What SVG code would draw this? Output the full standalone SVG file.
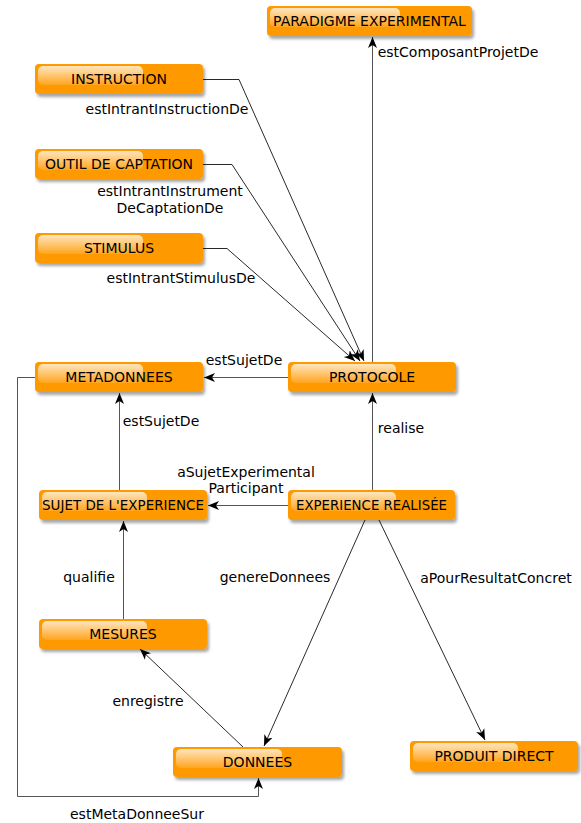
<svg xmlns="http://www.w3.org/2000/svg" width="581" height="823" viewBox="0 0 581 823">
<style>
.box{fill:#FF9900;filter:url(#sh)}
.gloss{fill:url(#gl)}
.nt{font-family:"DejaVu Sans",sans-serif;font-size:14px;fill:#000;text-anchor:middle}
.el{font-family:"DejaVu Sans",sans-serif;font-size:14px;fill:#000;text-anchor:middle}
.ortho{fill:none;stroke:#555;stroke-width:1;marker-end:url(#ah)}
.diag{fill:none;stroke:#111;stroke-width:0.9;marker-end:url(#ah)}
</style>
<defs>
<filter id="sh" x="-10%" y="-30%" width="125%" height="180%">
<feDropShadow dx="2" dy="3" stdDeviation="1.6" flood-color="#000" flood-opacity="0.35"/>
</filter>
<linearGradient id="gl" x1="0" y1="0" x2="0" y2="1">
<stop offset="0" stop-color="#fff" stop-opacity="0.75"/>
<stop offset="1" stop-color="#fff" stop-opacity="0.12"/>
</linearGradient>
<marker id="ah" markerUnits="userSpaceOnUse" markerWidth="12" markerHeight="10" viewBox="0 0 12 10" refX="11" refY="5" orient="auto">
<path d="M0,0.5 L11,5 L0,9.5 L3,5 Z" fill="#000"/>
</marker>
</defs>
<rect width="581" height="823" fill="#fff"/>
<g id="connectors">
<path class="diag" d="M203,79.5 H239 L364,361"/>
<path class="diag" d="M203,164.5 H232 L360,361"/>
<path class="diag" d="M203,248.5 H227 L355,361"/>
<path class="ortho" d="M372.5,362 V37"/>
<path class="ortho" d="M288,377.5 H204"/>
<path class="ortho" d="M372.5,490 V393"/>
<path class="ortho" d="M119.5,490 V393"/>
<path class="ortho" d="M288,505.5 H208"/>
<path class="ortho" d="M123.5,619 V521"/>
<path class="diag" d="M243,747 L140,649"/>
<path class="diag" d="M365,520 L264,746"/>
<path class="diag" d="M379,520 L485,740"/>
<path class="ortho" d="M35,377.5 H17.5 V796.5 H258.5 V778"/>
<text class="el" x="458" y="57">estComposantProjetDe</text>
<text class="el" x="167" y="114">estIntrantInstructionDe</text>
<text class="el" x="170" y="196">estIntrantInstrument</text>
<text class="el" x="170" y="213">DeCaptationDe</text>
<text class="el" x="181" y="283">estIntrantStimulusDe</text>
<text class="el" x="244" y="365">estSujetDe</text>
<text class="el" x="401" y="433">realise</text>
<text class="el" x="161" y="426">estSujetDe</text>
<text class="el" x="246" y="477">aSujetExperimental</text>
<text class="el" x="246" y="493">Participant</text>
<text class="el" x="89" y="582">qualifie</text>
<text class="el" x="275" y="582">genereDonnees</text>
<text class="el" x="496" y="583">aPourResultatConcret</text>
<text class="el" x="148" y="706">enregistre</text>
<text class="el" x="137" y="819">estMetaDonneeSur</text>
</g>
<g id="n-paradigme">
<rect class="box" x="267" y="6" width="205" height="30" rx="4"/>
<rect class="gloss" x="270" y="8" width="130" height="19" rx="5"/>
<text class="nt" x="369.5" y="26">PARADIGME EXPERIMENTAL</text>
</g>
<g id="n-instruction">
<rect class="box" x="35" y="64" width="168" height="30" rx="4"/>
<rect class="gloss" x="38" y="66" width="105" height="19" rx="5"/>
<text class="nt" x="119" y="84">INSTRUCTION</text>
</g>
<g id="n-outil">
<rect class="box" x="35" y="149" width="168" height="30" rx="4"/>
<rect class="gloss" x="38" y="151" width="105" height="19" rx="5"/>
<text class="nt" x="119" y="169">OUTIL DE CAPTATION</text>
</g>
<g id="n-stimulus">
<rect class="box" x="35" y="233" width="168" height="30" rx="4"/>
<rect class="gloss" x="38" y="235" width="105" height="19" rx="5"/>
<text class="nt" x="119" y="253">STIMULUS</text>
</g>
<g id="n-protocole">
<rect class="box" x="288" y="362" width="168" height="30" rx="4"/>
<rect class="gloss" x="291" y="364" width="105" height="19" rx="5"/>
<text class="nt" x="372" y="382">PROTOCOLE</text>
</g>
<g id="n-metadonnees">
<rect class="box" x="35" y="362" width="168" height="30" rx="4"/>
<rect class="gloss" x="38" y="364" width="105" height="19" rx="5"/>
<text class="nt" x="119" y="382">METADONNEES</text>
</g>
<g id="n-sujet">
<rect class="box" x="39" y="490" width="168" height="30" rx="4"/>
<rect class="gloss" x="42" y="492" width="105" height="19" rx="5"/>
<text class="nt" x="123" y="510" textLength="162" lengthAdjust="spacingAndGlyphs">SUJET DE L'EXPERIENCE</text>
</g>
<g id="n-experience">
<rect class="box" x="288" y="490" width="167" height="30" rx="4"/>
<rect class="gloss" x="291" y="492" width="105" height="19" rx="5"/>
<text class="nt" x="371.5" y="510" textLength="151" lengthAdjust="spacingAndGlyphs">EXPERIENCE REALISÉE</text>
</g>
<g id="n-mesures">
<rect class="box" x="39" y="619" width="168" height="30" rx="4"/>
<rect class="gloss" x="42" y="621" width="105" height="19" rx="5"/>
<text class="nt" x="123" y="639">MESURES</text>
</g>
<g id="n-donnees">
<rect class="box" x="173" y="747" width="169" height="30" rx="4"/>
<rect class="gloss" x="176" y="749" width="106" height="19" rx="5"/>
<text class="nt" x="257.5" y="767">DONNEES</text>
</g>
<g id="n-produit">
<rect class="box" x="410" y="741" width="168" height="30" rx="4"/>
<rect class="gloss" x="413" y="743" width="105" height="19" rx="5"/>
<text class="nt" x="494" y="761">PRODUIT DIRECT</text>
</g>
</svg>
